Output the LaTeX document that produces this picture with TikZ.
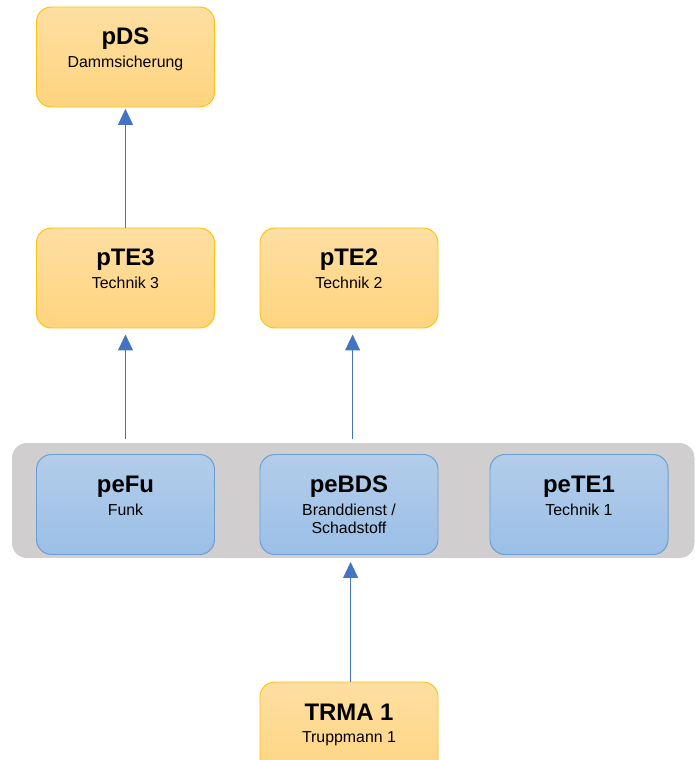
\documentclass[tikz,border=0pt]{standalone}
\usepackage{fontspec}
\setmainfont{Liberation Sans}
\usetikzlibrary{arrows.meta,positioning,fit,backgrounds}

\definecolor{boxorange}{HTML}{FFD47F}
\definecolor{boxorangetop}{HTML}{FEDFA2}
\definecolor{edgeorange}{HTML}{FFC20E}
\definecolor{boxblue}{HTML}{9BBFE7}
\definecolor{boxbluetop}{HTML}{B3CDEA}
\definecolor{edgeblue}{HTML}{6A9FD6}
\definecolor{groupgray}{HTML}{D0CECE}
\definecolor{linkblue}{HTML}{4472C4}

% title and subtitle, set from the top of the box
\newcommand{\boxlabel}[2]{\parbox[c][2.5cm][t]{4.45cm}{\centering
    \rule{0pt}{0.95cm}{\fontsize{17}{17}\selectfont\bfseries #1}\par\vspace{3.5pt}
    \fontsize{11.3}{12.8}\selectfont #2}}

\begin{document}
\begin{tikzpicture}[shorten >=1pt,node distance=5.6cm,on grid,
        boxbase/.style={rectangle, rounded corners=0.375cm, inner sep=0pt, line width=0.7pt},
        postbox/.style={boxbase, draw=edgeorange, top color=boxorangetop, bottom color=boxorange},
        persbox/.style={boxbase, draw=edgeblue, top color=boxbluetop, bottom color=boxblue},
        groupband/.style={rectangle, rounded corners=0.375cm, fill=groupgray, inner sep=0pt},
        link/.style={draw=linkblue, line width=0.7pt, -{Triangle[width=0.375cm,length=0.4cm]}}]
                \useasboundingbox (-3.1375,-12.05) rectangle (14.2125,6.95);

                \node[postbox] (pTE3) {\boxlabel{pTE3}{Technik 3}};
                \node[postbox] [above=5.525cm of pTE3] (pDS) {\boxlabel{pDS}{Dammsicherung}};
                \node[postbox] [right=5.5875cm of pTE3] (pTE2) {\boxlabel{pTE2}{Technik 2}};
                \node[persbox] [below=5.6625cm of pTE3] (peFu) {\boxlabel{peFu}{Funk}};
                \node[persbox] [right=5.5875cm of peFu] (peBDS) {\boxlabel{peBDS}{Branddienst /\\Schadstoff}};
                \node[persbox] [right=5.75cm of peBDS] (peTE1) {\boxlabel{peTE1}{Technik 1}};
                \node[postbox] [below=5.6875cm of peBDS] (TRMA) {\boxlabel{TRMA 1}{Truppmann 1}};

                \begin{scope}[on background layer]
                \node[groupband, fit={([shift={(-0.6cm,0.275cm)}]peFu.north west) ([shift={(0.65cm,-0.075cm)}]peTE1.south east)}] (crew) {};
                \end{scope}

                \draw[link] (pTE3.north) -- (pDS.south);
                \draw[link, shorten >=0.15cm] ([yshift=0.375cm]peFu.north) -- (pTE3.south);
                \draw[link, shorten >=0.15cm] ([shift={(0.09cm,0.375cm)}]peBDS.north) -- ([xshift=0.09cm]pTE2.south);
                \draw[link, shorten >=0.175cm] ([xshift=0.04cm]TRMA.north) -- ([xshift=0.04cm]peBDS.south);
            \end{tikzpicture}
\end{document}
